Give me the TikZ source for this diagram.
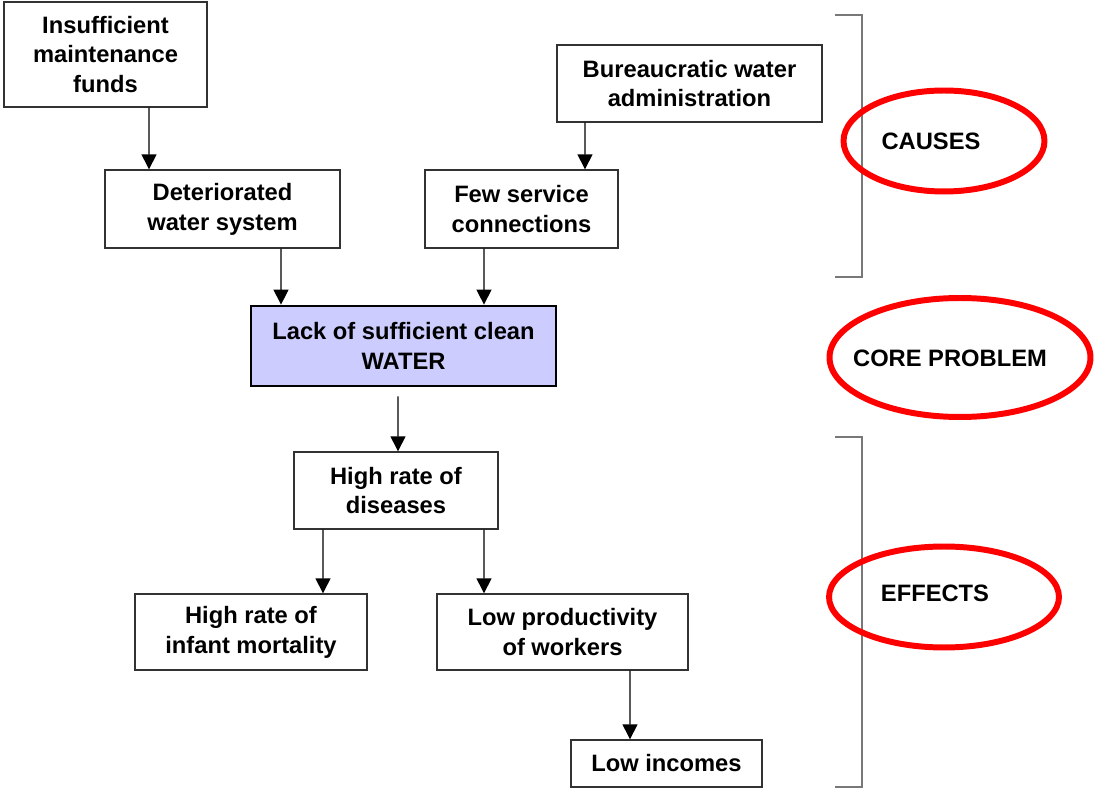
\documentclass[tikz,border=0pt]{standalone}
\usepackage{fontspec}
\setmainfont{Liberation Sans}
\usepackage{xcolor}
\usepackage{tikz}
\usetikzlibrary{shapes.geometric,arrows.meta,positioning}
\definecolor{corelilac}{RGB}{204,204,255}
\definecolor{ringred}{RGB}{255,0,0}
\definecolor{boxgray}{RGB}{50,50,50}
\definecolor{bracketgray}{RGB}{120,120,120}

\begin{document}
\begin{tikzpicture}[
    x=0.02cm, y=-0.02cm,
    box/.style={rectangle, draw=boxgray, line width=0.8pt, align=center, font=\fontsize{13.5}{17}\selectfont\bfseries, inner sep=0pt},
    core/.style={box, draw=black, line width=1.6pt, fill=corelilac},
    arrow/.style={-{Triangle[length=0.3cm, width=0.3cm]}, line width=0.8pt},
    ring/.style={ellipse, draw=ringred, line width=3.4pt, inner sep=0pt},
    tag/.style={font=\fontsize{13.5}{17}\selectfont\bfseries, inner sep=0pt},
    bracket/.style={draw=bracketgray, line width=0.8pt}
]
\useasboundingbox (0,0) rectangle (1096,790);

% Causes
\node[box, minimum width=4.06cm, minimum height=2.1cm] (funds) at (105.5,54.5) {Insufficient\\maintenance\\funds};
\node[box, minimum width=5.3cm, minimum height=1.54cm] (bureau) at (689.5,83.5) {Bureaucratic water\\administration};
\node[box, minimum width=4.7cm, minimum height=1.56cm] (system) at (222.5,209) {Deteriorated\\water system};
\node[box, minimum width=3.86cm, minimum height=1.56cm] (connect) at (521.5,209) {Few service\\connections};

% Core problem
\node[core, minimum width=6.1cm, minimum height=1.6cm] (water) at (403.5,346) {Lack of sufficient clean\\WATER};

% Effects
\node[box, minimum width=4.08cm, minimum height=1.54cm] (disease) at (396,490.5) {High rate of\\diseases};
\node[box, minimum width=4.64cm, minimum height=1.52cm] (infant) at (251,632) {High rate of\\infant mortality};
\node[box, minimum width=5.02cm, minimum height=1.52cm] (workers) at (562.5,632) {Low productivity\\of workers};
\node[box, minimum width=3.82cm, minimum height=0.94cm] (incomes) at (666.5,763.5) {Low incomes};

\draw[arrow] ([xshift=0.87cm]funds.south) -- ([xshift=-1.47cm]system.north);
\draw[arrow] ([xshift=-2.09cm]bureau.south) -- ([xshift=1.27cm]connect.north);
\draw[arrow] ([xshift=1.17cm]system.south) -- ([xshift=-2.45cm]water.north);
\draw[arrow] ([xshift=-0.75cm]connect.south) -- ([xshift=1.61cm]water.north);
\draw[arrow, shorten <=0.18cm] ([xshift=-0.11cm]water.south) -- ([xshift=0.04cm]disease.north);
\draw[arrow] ([xshift=-1.46cm]disease.south) -- ([xshift=1.44cm]infant.north);
\draw[arrow] ([xshift=1.76cm]disease.south) -- ([xshift=-1.57cm]workers.north);
\draw[arrow] ([xshift=1.35cm]workers.south) -- ([xshift=-0.73cm]incomes.north);

% Brackets
\draw[bracket] (835,15) -- (862,15) -- (862,277) -- (835,277);
\draw[bracket] (835,437) -- (862,437) -- (862,787) -- (835,787);

% Labels
\node[ring, minimum width=4.02cm, minimum height=2.02cm] (causesring) at (944,141) {};
\node[tag] (causes) at (931,141) {CAUSES};
\node[ring, minimum width=5.22cm, minimum height=2.38cm] (corering) at (960,357.5) {};
\node[tag] (problem) at (950,358) {CORE PROBLEM};
\node[ring, minimum width=4.6cm, minimum height=2.02cm] (effectsring) at (944,597) {};
\node[tag] (effects) at (935,593) {EFFECTS};
\end{tikzpicture}
\end{document}
